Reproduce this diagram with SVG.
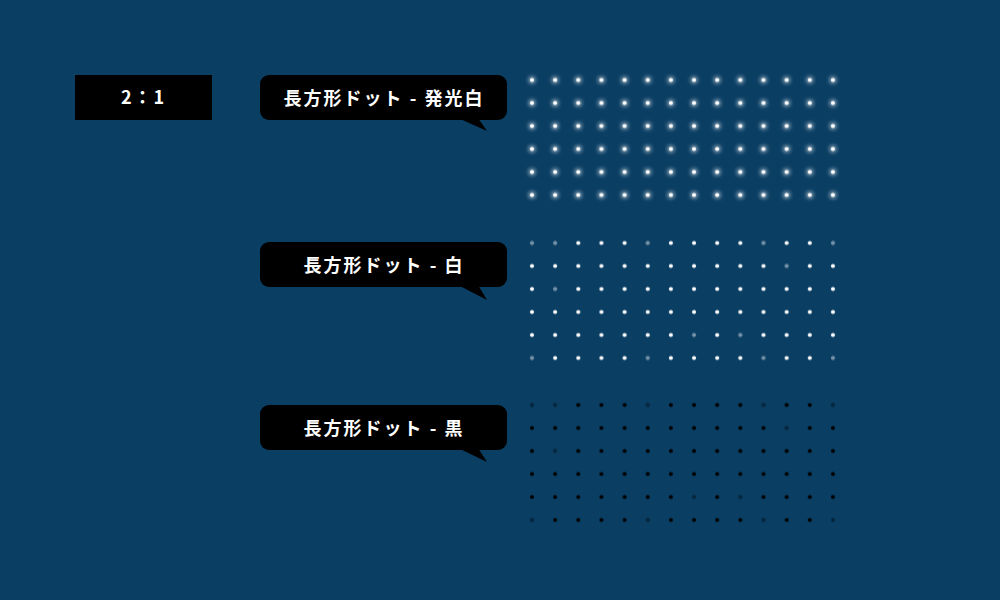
<svg xmlns="http://www.w3.org/2000/svg" width="1000" height="600" viewBox="0 0 1000 600">
<style>
.box{fill:#000}
.lbl{fill:#fff;font-family:"Noto Sans CJK JP","Noto Sans",sans-serif;font-weight:bold;font-size:18px;text-anchor:middle;letter-spacing:2px}
.dimw{fill:#0a3e63;opacity:0.55}
.dimb{fill:#0a3e63;opacity:0.6}
</style>
<defs>
<pattern id="pw" x="520.42" y="68.5" width="23.15" height="23" patternUnits="userSpaceOnUse"><circle cx="11.58" cy="11.5" r="2" fill="#fff"/></pattern>
<pattern id="pw2" x="520.42" y="231.5" width="23.15" height="23" patternUnits="userSpaceOnUse"><circle cx="11.58" cy="11.5" r="2" fill="#fff"/></pattern>
<pattern id="pb" x="520.42" y="393.5" width="23.15" height="23" patternUnits="userSpaceOnUse"><circle cx="11.58" cy="11.5" r="2" fill="#000"/></pattern>
<filter id="glow" x="-5%" y="-5%" width="110%" height="110%"><feGaussianBlur stdDeviation="2.5" result="b"/><feMerge><feMergeNode in="b"/><feMergeNode in="b"/><feMergeNode in="SourceGraphic"/></feMerge></filter>
<g id="dims">
<circle cx="532" cy="0" r="2.5"/><circle cx="555.15" cy="0" r="2.5"/><circle cx="647.75" cy="0" r="2.5"/><circle cx="763.5" cy="0" r="2.5"/><circle cx="832.95" cy="0" r="2.5"/>
<circle cx="786.65" cy="23" r="2.5"/><circle cx="555.15" cy="46" r="2.5"/>
<circle cx="694.05" cy="92" r="2.5"/><circle cx="740.35" cy="92" r="2.5"/>
<circle cx="532" cy="115" r="2.5"/><circle cx="647.75" cy="115" r="2.5"/><circle cx="832.95" cy="115" r="2.5"/><circle cx="763.5" cy="115" r="2.5"/><circle cx="763.5" cy="115" r="2.5"/>
</g>
</defs>
<rect width="1000" height="600" fill="#0a3e63"/>
<g id="ratio"><rect class="box" x="75" y="75" width="137" height="45"/><text class="lbl" x="143.5" y="104">2：1</text></g>
<g id="callout-glow"><rect class="box" x="260" y="75" width="247" height="45" rx="9"/><path class="box" d="M458 118 L487 131 L478 118 Z"/><text class="lbl" x="384" y="105">長方形ドット - 発光白</text></g>
<g id="callout-white"><rect class="box" x="260" y="242" width="247" height="45" rx="9"/><path class="box" d="M458 285 L487 300 L478 285 Z"/><text class="lbl" x="384" y="272">長方形ドット - 白</text></g>
<g id="callout-black"><rect class="box" x="260" y="405" width="247" height="45" rx="9"/><path class="box" d="M458 448 L487 462 L478 448 Z"/><text class="lbl" x="384" y="435">長方形ドット - 黒</text></g>
<g id="grid-glow" filter="url(#glow)"><rect x="520.42" y="68.5" width="324.1" height="138" fill="url(#pw)"/></g>
<g id="grid-white"><rect x="520.42" y="231.5" width="324.1" height="138" fill="url(#pw2)"/><use href="#dims" y="243" class="dimw"/></g>
<g id="grid-black"><rect x="520.42" y="393.5" width="324.1" height="138" fill="url(#pb)"/><use href="#dims" y="405" class="dimb"/></g>
<g id="connectors"/>
</svg>
